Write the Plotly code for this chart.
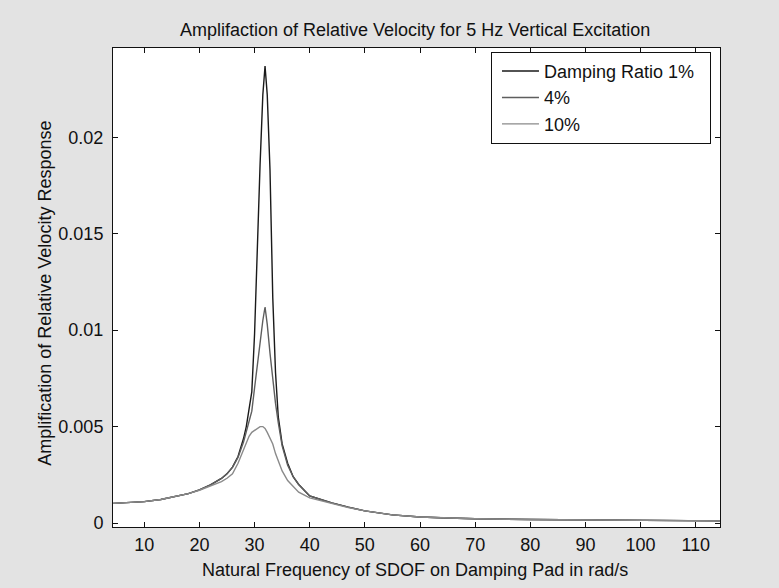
import plotly.graph_objects as go

# Natural frequency of SDOF (rad/s)
omega = [4.33, 7, 10, 13, 16, 18, 20, 22, 24, 25, 26, 27, 28, 28.5, 29, 29.5, 30, 30.5,
         31, 31.5, 31.9, 32.3, 32.8, 33.3, 33.8, 34.3, 35, 36, 37, 38, 40, 42, 44, 47,
         50, 55, 60, 65, 70, 80, 90, 100, 110, 114.4]

damp_1 = [0.00102, 0.00106, 0.00111, 0.00122, 0.00138, 0.00152, 0.00172, 0.00198, 0.00231,
          0.00255, 0.00290, 0.00345, 0.00438, 0.00500, 0.00590, 0.0068, 0.0098, 0.0147,
          0.0186, 0.0222, 0.0237, 0.0222, 0.0183, 0.0117, 0.0078, 0.0055, 0.0041, 0.0031,
          0.0024, 0.0020, 0.0014, 0.00122, 0.00104, 0.00082,
          0.00063, 0.00042, 0.00031, 0.00026, 0.00022, 0.00018, 0.00015, 0.00013, 0.00011, 0.00011]

damp_4 = [0.00102, 0.00106, 0.00111, 0.00122, 0.00138, 0.00152, 0.00172, 0.00198, 0.00231,
          0.00255, 0.00288, 0.0034, 0.0042, 0.0047, 0.0052, 0.0058, 0.0070, 0.0082,
          0.0094, 0.0105, 0.0112, 0.0103, 0.0088, 0.0074, 0.0062, 0.0052, 0.0040, 0.0030,
          0.0024, 0.0020, 0.0014, 0.00122, 0.00104, 0.00082,
          0.00063, 0.00042, 0.00031, 0.00026, 0.00022, 0.00018, 0.00015, 0.00013, 0.00011, 0.00011]

damp_10 = [0.00102, 0.00106, 0.00111, 0.00122, 0.00138, 0.00152, 0.00170, 0.00193, 0.00215,
           0.00232, 0.00255, 0.0031, 0.0038, 0.0042, 0.0045, 0.0047, 0.0048, 0.0049,
           0.0050, 0.0050, 0.0049, 0.0047, 0.0044, 0.0041, 0.0036, 0.0032, 0.0027, 0.0022,
           0.0019, 0.0016, 0.0013, 0.00115, 0.00100, 0.00080,
           0.00063, 0.00042, 0.00031, 0.00026, 0.00022, 0.00018, 0.00015, 0.00013, 0.00011, 0.00011]

series_names = ["Damping Ratio 1%\u00a0\u00a0", "4%", "10%"]
series_colors = ["#1a1a1a", "#5e5e5e", "#8a8a8a"]

x_ticks = [10, 20, 30, 40, 50, 60, 70, 80, 90, 100, 110]
y_ticks = [0, 0.005, 0.01, 0.015, 0.02]
y_tick_text = ["0", "0.005", "0.01", "0.015", "0.02"]

FONT = "Liberation Sans, Arial, Helvetica, sans-serif"

fig = go.Figure()
for name, ys, col in zip(series_names, [damp_1, damp_4, damp_10], series_colors):
    fig.add_trace(go.Scatter(x=omega, y=ys, mode="lines", name=name,
                             line=dict(color=col, width=1.4)))

axis_common = dict(showgrid=False, zeroline=False, showline=True, linecolor="#111",
                   linewidth=1, mirror="ticks", ticks="inside", ticklen=5,
                   tickcolor="#111", tickfont=dict(family=FONT, size=18, color="#111"))

fig.update_xaxes(range=[4.33, 114.4], tickvals=x_ticks, ticklabelstandoff=1, **axis_common)
fig.update_yaxes(range=[-0.000207, 0.02463], tickvals=y_ticks, ticktext=y_tick_text,
                 ticklabelstandoff=5, **axis_common)

fig.add_annotation(text="Amplifaction of Relative Velocity for 5 Hz Vertical Excitation",
                   xref="paper", yref="paper", x=0.497, y=1.0376, showarrow=False,
                   xanchor="center", yanchor="middle",
                   font=dict(family=FONT, size=18, color="#111"))
fig.add_annotation(text="Natural Frequency of SDOF on Damping Pad in rad/s",
                   xref="paper", yref="paper", x=0.497, y=-0.0905, showarrow=False,
                   xanchor="center", yanchor="middle",
                   font=dict(family=FONT, size=18, color="#111"))
fig.add_annotation(text="Amplification of Relative Velocity Response",
                   xref="paper", yref="paper", x=-0.112, y=0.487, showarrow=False,
                   xanchor="center", yanchor="middle", textangle=-90,
                   font=dict(family=FONT, size=18, color="#111"))

fig.update_layout(
    width=779, height=588,
    margin=dict(l=113, r=59, t=48, b=61),
    paper_bgcolor="#e3e3e3", plot_bgcolor="white",
    showlegend=True,
    legend=dict(x=0.6227, y=0.992, xanchor="left", yanchor="top",
                bgcolor="white", bordercolor="#111", borderwidth=1,
                font=dict(family=FONT, size=18, color="#111"),
                tracegroupgap=0, itemwidth=37, indentation=5),
)

fig.write_html("out.html")
